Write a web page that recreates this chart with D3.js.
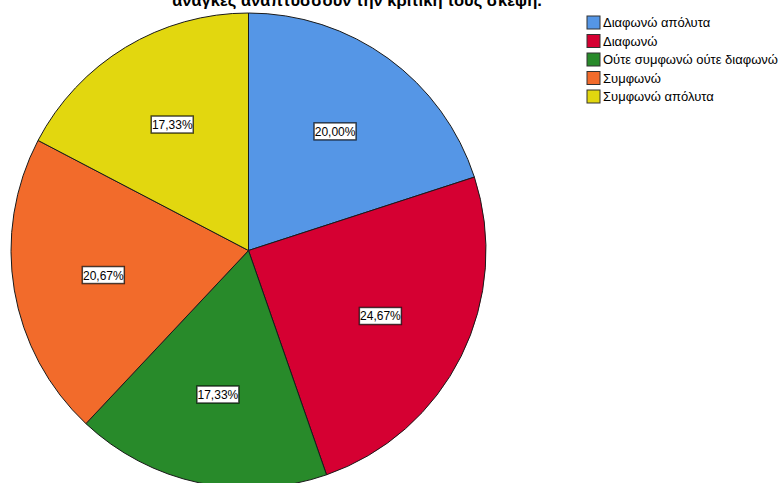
<!DOCTYPE html>
<html>
<head>
<meta charset="utf-8">
<script src="https://cdn.jsdelivr.net/npm/d3@7"></script>
<style>
  html, body { margin: 0; padding: 0; background: #fff; }
  svg { display: block; }
</style>
</head>
<body>
<svg id="chart" width="782" height="483"></svg>
<script>
const categories = ["Διαφωνώ απόλυτα", "Διαφωνώ", "Ούτε συμφωνώ ούτε διαφωνώ", "Συμφωνώ", "Συμφωνώ απόλυτα"];
const values = [20.00, 24.67, 17.33, 20.67, 17.33];
const colors = ["#5596E6", "#D50032", "#288A2A", "#F26B2B", "#E2D70F"];
const titleText = "ανάγκες αναπτύσσουν την κριτική τους σκέψη.";

const svg = d3.select("#chart");
const cx = 248.5, cy = 250.5, R = 237.5;

const data = categories.map((c, i) => ({ cat: c, value: values[i], color: colors[i] }));
const pie = d3.pie().value(d => d.value).sort(null);
const arcs = pie(data);
const arc = d3.arc().innerRadius(0).outerRadius(R);
const labelArc = d3.arc().innerRadius(R * 0.62).outerRadius(R * 0.62);

const g = svg.append("g").attr("transform", `translate(${cx},${cy})`);
g.selectAll("path.slice").data(arcs).join("path")
  .attr("class", "slice")
  .attr("d", arc)
  .attr("fill", d => d.data.color)
  .attr("stroke", "#1a1a1a")
  .attr("stroke-width", 1);

const fmt = v => v.toFixed(2).replace(".", ",") + "%";
const lab = g.selectAll("g.lab").data(arcs).join("g")
  .attr("class", "lab")
  .attr("transform", d => `translate(${labelArc.centroid(d)})`);
lab.append("rect")
  .attr("x", -21).attr("y", -8.5).attr("width", 42).attr("height", 17)
  .attr("fill", "#fff")
  .attr("stroke", "rgba(0,0,0,0.7)")
  .attr("stroke-width", 1.5);
lab.append("text")
  .attr("text-anchor", "middle")
  .attr("y", 4.5)
  .style("font-family", "'Liberation Sans', Arial, sans-serif")
  .style("font-size", "12px")
  .attr("fill", "#000")
  .text(d => fmt(d.data.value));

// Title (only its last line shows; the upper part lies above the picture as in the reference)
svg.append("text")
  .attr("x", 357).attr("y", 6)
  .attr("text-anchor", "middle")
  .style("font-family", "'Liberation Sans', Arial, sans-serif")
  .style("font-size", "16.5px")
  .style("font-weight", "bold")
  .text(titleText);

// Legend
const legend = svg.append("g").attr("transform", "translate(587,16)");
const rowH = 18.5;
const li = legend.selectAll("g").data(data).join("g")
  .attr("transform", (d, i) => `translate(0,${i * rowH})`);
li.append("rect")
  .attr("x", 0).attr("y", 0).attr("width", 13).attr("height", 13)
  .attr("fill", d => d.color)
  .attr("stroke", "#333").attr("stroke-width", 1);
li.append("text")
  .attr("x", 16).attr("y", 11)
  .style("font-family", "'Liberation Sans', Arial, sans-serif")
  .style("font-size", "13px")
  .attr("fill", "#000")
  .text(d => d.cat);
</script>
</body>
</html>
